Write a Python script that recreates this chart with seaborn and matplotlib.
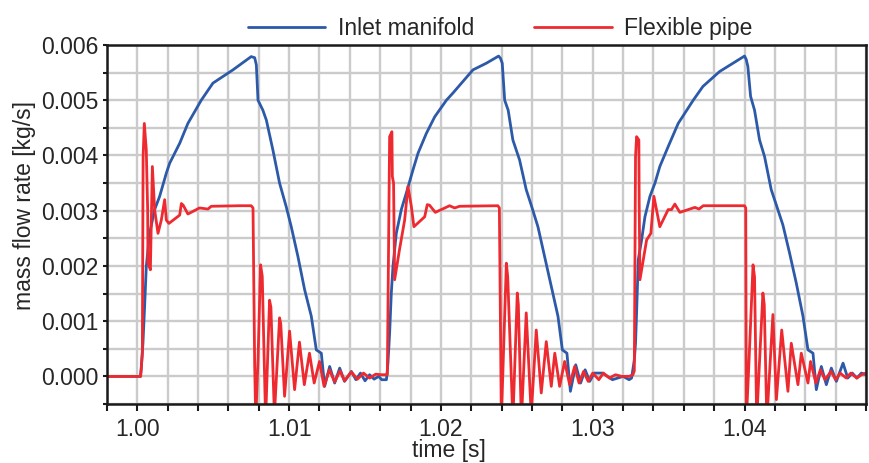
import numpy as np
import pandas as pd
import matplotlib
matplotlib.use("Agg")
import matplotlib.pyplot as plt
import matplotlib.ticker as mtick
import seaborn as sns

BLUE = "#2d5aa8"
RED = "#ee2a30"
GRID = "#cbcbcb"

# Inlet manifold, three injection cycles (time [s], mass flow [kg/s])
inlet_c1_t = [0.998, 1.0002, 1.00025, 1.00037, 1.00048, 1.00059, 1.00081, 1.00114, 1.00147,
              1.00191, 1.00213, 1.00279, 1.00333, 1.00421, 1.00498, 1.0063, 1.0075, 1.00773,
              1.00784, 1.00795, 1.00827, 1.0085, 1.00893, 1.00937, 1.00981, 1.01014, 1.01058,
              1.01102, 1.01146, 1.01179, 1.01212, 1.01234, 1.01267, 1.013, 1.01333, 1.01365,
              1.0141, 1.0144, 1.0147, 1.015, 1.0153, 1.0156, 1.0159, 1.0161]
inlet_c1_m = [0.0, 0.0, 0.00012, 0.0006, 0.00127, 0.00199, 0.00259, 0.00302, 0.00326,
              0.00368, 0.00386, 0.00422, 0.00458, 0.005, 0.00531, 0.00555, 0.00579, 0.00577,
              0.00564, 0.005, 0.00482, 0.00464, 0.0041, 0.0035, 0.00307, 0.00271, 0.00217,
              0.00157, 0.00109, 0.00048, 0.00042, -0.00018, 0.00018, -0.00012, 0.00015, -0.00009,
              0.00009, -0.00006, 0.00006, -0.00008, 0.00003, -0.00005, 0.0, -0.00006]

inlet_c2_t = [1.01641, 1.01651, 1.01662, 1.01673, 1.01684, 1.01706, 1.01739, 1.01772, 1.01816,
              1.01849, 1.01904, 1.01959, 1.02036, 1.02079, 1.02211, 1.02299, 1.0238, 1.02392,
              1.02404, 1.0242, 1.02443, 1.02474, 1.02518, 1.02562, 1.02595, 1.02639, 1.02683,
              1.02727, 1.02771, 1.028, 1.0283, 1.02853, 1.02888, 1.0292, 1.0295, 1.0298,
              1.0301, 1.03065, 1.0313, 1.0320, 1.0324]
inlet_c2_m = [-0.00006, 0.00024, 0.00078, 0.0015, 0.00199, 0.00259, 0.00302, 0.00332, 0.00374,
              0.00404, 0.0044, 0.0047, 0.005, 0.00513, 0.00555, 0.00567, 0.0058, 0.00576,
              0.00567, 0.005, 0.00482, 0.00428, 0.00392, 0.00338, 0.0031, 0.00271, 0.00217,
              0.00163, 0.00109, 0.00048, 0.00042, -0.00027, 0.00021, -0.00012, 0.00012, -0.00009,
              0.00006, 0.00006, -0.00006, 0.0, -0.00006]

inlet_c3_t = [1.03256, 1.03274, 1.03282, 1.03289, 1.033, 1.03322, 1.03344, 1.03377, 1.0341,
              1.03442, 1.03497, 1.03563, 1.03662, 1.03726, 1.03836, 1.0400, 1.04011, 1.04022,
              1.0404, 1.04066, 1.04099, 1.04132, 1.04176, 1.0421, 1.04253, 1.04297, 1.04341,
              1.04385, 1.04418, 1.04451, 1.04473, 1.04506, 1.04539, 1.04572, 1.04605, 1.04649,
              1.0468, 1.0471, 1.0474, 1.0477, 1.048]
inlet_c3_m = [-0.00003, 0.0003, 0.0006, 0.00115, 0.00211, 0.00247, 0.00289, 0.00326, 0.0035,
              0.0038, 0.00416, 0.00458, 0.005, 0.00525, 0.00552, 0.0058, 0.00574, 0.00561,
              0.00507, 0.00482, 0.00428, 0.00398, 0.00338, 0.0031, 0.00274, 0.00223, 0.00169,
              0.00109, 0.00048, 0.00042, -0.00024, 0.00018, -0.00015, 0.00015, -0.00009, 0.00024,
              -0.00003, 0.00006, -0.00003, 0.00006, 0.00003]

# Flexible pipe, three injection cycles
pipe_c1_t = [0.998, 1.00022, 1.00033, 1.00035, 1.00038, 1.00046, 1.00059, 1.00068, 1.0007,
             1.00086, 1.00099, 1.00114, 1.00136, 1.00158, 1.0018, 1.00191, 1.00208, 1.00279,
             1.0029, 1.00302, 1.00333, 1.0041, 1.00465, 1.00487, 1.00674, 1.0075, 1.00762,
             1.00773, 1.0078, 1.00795, 1.00812, 1.00823, 1.00845, 1.00871, 1.0088, 1.00903,
             1.00937, 1.00945, 1.0097, 1.01003, 1.01036, 1.01068, 1.011, 1.01134, 1.01165,
             1.012, 1.0123, 1.01265, 1.013, 1.01335, 1.01365, 1.0141, 1.0145, 1.0149,
             1.0153, 1.0157, 1.0161, 1.01647]
pipe_c1_m = [0.0, 0.0, 0.00042, 0.00199, 0.00398, 0.00458, 0.0041, 0.00302, 0.00205,
             0.00193, 0.0038, 0.00302, 0.00259, 0.00283, 0.0032, 0.00283, 0.00277, 0.00292,
             0.00313, 0.0031, 0.00294, 0.00305, 0.00303, 0.00308, 0.00309, 0.00309, 0.00305,
             0.0002, -0.0008, 0.0003, 0.00202, 0.00181, -0.0008, 0.00138, 0.00125, -0.0007,
             0.00106, 0.00095, -0.00036, 0.00082, -0.00024, 0.00062, -0.00015, 0.00042, -0.00012,
             0.00027, -0.00018, 0.00012, -0.0001, 0.0001, -0.00008, 0.00008, -0.00005, 0.00006,
             -0.00003, 0.00004, 0.00003, 0.00003]

pipe_c2_t = [1.01662, 1.01677, 1.0168, 1.01688, 1.01695, 1.01728, 1.01761, 1.01783, 1.01805,
             1.01822, 1.01893, 1.0191, 1.01925, 1.01963, 1.02057, 1.0209, 1.02123, 1.02375,
             1.02385, 1.02398, 1.02431, 1.0244, 1.02474, 1.02503, 1.0251, 1.0253, 1.02562,
             1.02595, 1.02628, 1.02661, 1.02694, 1.02727, 1.0275, 1.02782, 1.02815, 1.02848,
             1.02881, 1.0291, 1.0294, 1.0297, 1.03, 1.0304, 1.0307, 1.0311, 1.0315,
             1.0319, 1.0324, 1.03265]
pipe_c2_m = [0.00434, 0.00443, 0.00362, 0.0035, 0.00175, 0.00231, 0.00283, 0.00344, 0.00308,
             0.00271, 0.00289, 0.00311, 0.0031, 0.00297, 0.00309, 0.00305, 0.00308, 0.00309,
             0.00305, -0.0008, 0.00205, 0.0018, -0.0008, 0.00151, 0.0013, -0.0008, 0.00115,
             -0.0007, 0.00084, -0.0003, 0.00063, -0.00018, 0.00042, -0.00018, 0.00027, -0.00015,
             0.00018, -0.00012, 0.00009, -0.00009, 0.00006, -0.00006, 0.00006, -0.00003, 0.00003,
             0.0, 0.0, 0.00003]

pipe_c3_t = [1.03274, 1.03282, 1.03289, 1.03304, 1.03306, 1.03311, 1.03355, 1.03383, 1.03403,
             1.03442, 1.03497, 1.03519, 1.03541, 1.03574, 1.03673, 1.037, 1.03728, 1.04,
             1.04008, 1.04012, 1.0403, 1.04056, 1.04066, 1.0408, 1.04121, 1.0413, 1.04147,
             1.04187, 1.0421, 1.04245, 1.04286, 1.04308, 1.04352, 1.04374, 1.04418, 1.04435,
             1.0447, 1.045, 1.0453, 1.0457, 1.046, 1.0463, 1.0467, 1.047, 1.0474,
             1.0477, 1.048]
pipe_c3_m = [0.0001, 0.00398, 0.00434, 0.00428, 0.00313, 0.00175, 0.00247, 0.00259, 0.00326,
             0.00271, 0.00302, 0.00302, 0.00312, 0.00297, 0.00306, 0.00303, 0.00309, 0.00309,
             0.00305, -0.0008, 0.0003, 0.00202, 0.0018, -0.0008, 0.00151, 0.0013, -0.0008,
             0.00112, -0.00042, 0.00084, -0.00027, 0.0006, -0.00015, 0.00042, -0.00012, 0.00027,
             -0.00012, 0.00012, -0.00006, 0.00009, -0.00006, 0.00006, -0.00003, 0.00006, -0.00003,
             0.00003, 0.00006]

SERIES = ["Inlet manifold", "Flexible pipe"]


def build_frame():
    inlet = pd.DataFrame({
        "time": inlet_c1_t + inlet_c2_t + inlet_c3_t,
        "flow": inlet_c1_m + inlet_c2_m + inlet_c3_m,
    })
    inlet["series"] = SERIES[0]
    pipe = pd.DataFrame({
        "time": pipe_c1_t + pipe_c2_t + pipe_c3_t,
        "flow": pipe_c1_m + pipe_c2_m + pipe_c3_m,
    })
    pipe["series"] = SERIES[1]
    return pd.concat([inlet, pipe], ignore_index=True)


sns.set_style("ticks")
plt.rcParams["font.family"] = ["Liberation Sans", "DejaVu Sans"]
plt.rcParams["font.size"] = 16

df = build_frame()

fig = plt.figure(figsize=(8.69, 4.63), dpi=100)
ax = fig.add_axes([0.1231, 0.1274, 0.8734, 0.7754])

sns.lineplot(data=df, x="time", y="flow", hue="series", hue_order=SERIES,
             palette={SERIES[0]: BLUE, SERIES[1]: RED},
             estimator=None, sort=False, linewidth=2, ax=ax)

ax.set_xlim(0.998, 1.048)
ax.set_ylim(-0.0005, 0.006)

ax.xaxis.set_major_locator(mtick.MultipleLocator(0.01))
ax.xaxis.set_minor_locator(mtick.MultipleLocator(0.002))
ax.yaxis.set_major_locator(mtick.MultipleLocator(0.001))
ax.yaxis.set_minor_locator(mtick.MultipleLocator(0.0005))
ax.xaxis.set_major_formatter(mtick.FormatStrFormatter("%.2f"))
ax.yaxis.set_major_formatter(mtick.FormatStrFormatter("%.3f"))

ax.grid(which="both", color=GRID, linewidth=1.7)
ax.set_axisbelow(True)

for side in ["left", "bottom", "top", "right"]:
    ax.spines[side].set_linewidth(1.8)
    ax.spines[side].set_color("#1a1a1a")

ax.tick_params(axis="both", which="both", direction="out", width=1.5,
               color="#1a1a1a", labelsize=16.5)
ax.tick_params(axis="x", which="both", length=5, pad=5)
ax.tick_params(axis="y", which="both", length=3, pad=3)

ax.set_xlabel("time [s]", fontsize=16.5, labelpad=0)
ax.xaxis.set_label_coords(0.45, -0.098)
ax.set_ylabel("mass flow rate [kg/s]", fontsize=16.5)
ax.yaxis.set_label_coords(-0.093, 0.554)

handles, labels = ax.get_legend_handles_labels()
ax.legend(handles, labels, loc="center", bbox_to_anchor=(0.518, 1.047),
          ncol=2, frameon=False, fontsize=16.5, handlelength=3.4,
          handletextpad=0.55, columnspacing=2.6, borderaxespad=0)

fig.savefig("out.png", dpi=100)
